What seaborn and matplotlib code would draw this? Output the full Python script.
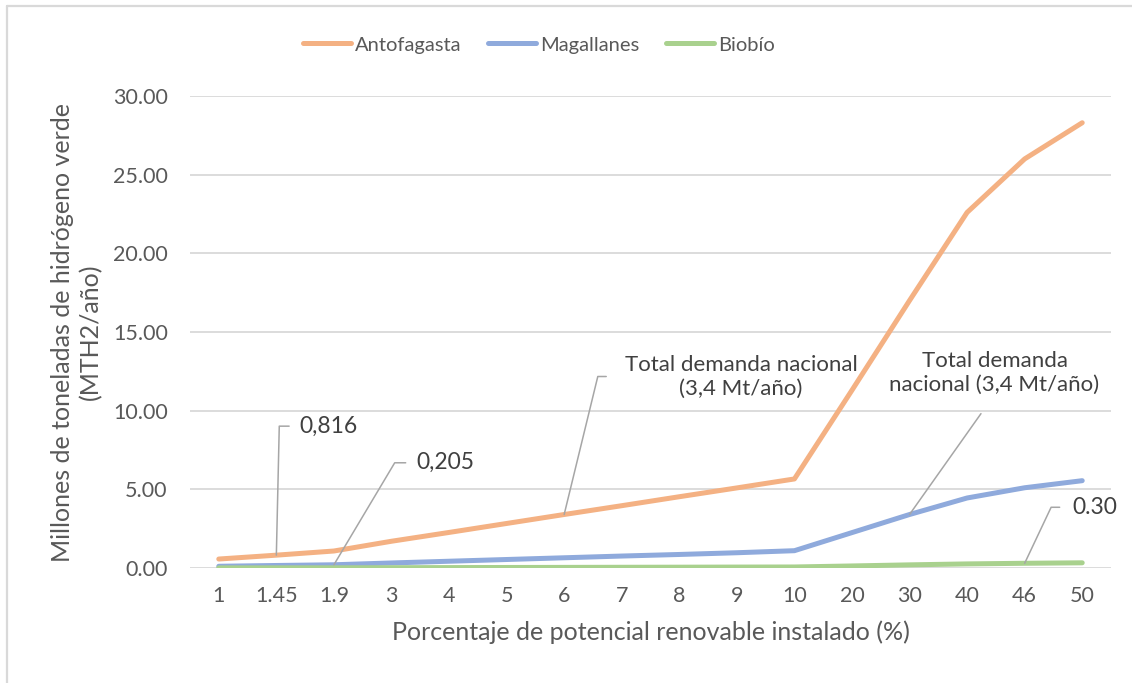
import matplotlib
matplotlib.use("Agg")
import matplotlib.pyplot as plt
from matplotlib.lines import Line2D
import seaborn as sns
import pandas as pd

# Installed renewable potential (%), shown as evenly spaced categories
categories = ["1", "1.45", "1.9", "3", "4", "5", "6", "7", "8", "9",
              "10", "20", "30", "40", "46", "50"]

# Green hydrogen production (million tonnes per year)
antofagasta = [0.57, 0.816, 1.08, 1.70, 2.26, 2.83, 3.40, 3.96, 4.53, 5.09,
               5.66, 11.3, 17.0, 22.6, 26.0, 28.3]
magallanes = [0.11, 0.16, 0.205, 0.32, 0.43, 0.54, 0.65, 0.76, 0.86, 0.97,
              1.10, 2.25, 3.40, 4.45, 5.10, 5.55]
biobio = [0.007, 0.009, 0.012, 0.020, 0.026, 0.033, 0.039, 0.046, 0.052, 0.059,
          0.065, 0.13, 0.20, 0.26, 0.30, 0.33]

regions = ["Antofagasta", "Magallanes", "Biobío"]
colors = {"Antofagasta": "#F4B183", "Magallanes": "#8FAADC", "Biobío": "#A9D18E"}

rows = []
for name, vals in zip(regions, [antofagasta, magallanes, biobio]):
    for i, v in enumerate(vals):
        rows.append({"idx": i, "valor": v, "region": name})
df = pd.DataFrame(rows)

sns.set_theme(style="white")
plt.rcParams["font.family"] = ["Lato", "DejaVu Sans"]

TXT = "#595959"
ANN = "#404040"
LEAD = "#A6A6A6"

fig = plt.figure(figsize=(11.32, 6.83), dpi=100)
fig.patch.set_facecolor("white")
W, H = 1132, 683
ax = fig.add_axes([190 / W, (H - 568) / H, 921 / W, 472 / H])

sns.lineplot(data=df, x="idx", y="valor", hue="region", hue_order=regions,
             palette=colors, linewidth=3.6, legend=False, ax=ax, zorder=3)
for ln in ax.get_lines():
    ln.set_solid_capstyle("round")
    ln.set_solid_joinstyle("round")

ax.set_xlim(-0.5, len(categories) - 0.5)
ax.set_ylim(0, 30)
ax.set_xticks(range(len(categories)))
ax.set_xticklabels(categories)
ax.set_yticks([0, 5, 10, 15, 20, 25, 30])
ax.yaxis.set_major_formatter(matplotlib.ticker.FormatStrFormatter("%.2f"))
ax.tick_params(axis="both", length=0, labelsize=15.5, labelcolor=TXT)
ax.tick_params(axis="x", pad=13)
ax.tick_params(axis="y", pad=16)
ax.grid(axis="y", color="#D9D9D9", linewidth=1.3, zorder=0)
ax.set_axisbelow(True)
for s in ax.spines.values():
    s.set_visible(False)

ax.set_xlabel("Porcentaje de potencial renovable instalado (%)", fontsize=18, color=TXT)
ax.xaxis.set_label_coords(0.5, -0.112)
ax.set_ylabel("Millones de toneladas de hidrógeno verde\n(MTH2/año)", fontsize=18,
              color=TXT, linespacing=1.25)
ax.yaxis.set_label_coords(-0.0955, 0.5)

# Legend across the top
handles = [Line2D([0], [0], color=colors[r], linewidth=3.6, solid_capstyle="round")
           for r in regions]
leg = ax.legend(handles, regions, loc="center", bbox_to_anchor=(539 / W, (H - 45) / H),
                bbox_transform=fig.transFigure, ncol=3, frameon=False, fontsize=14.5,
                handlelength=2.4, handletextpad=0.2, columnspacing=1.3)
for t in leg.get_texts():
    t.set_color(TXT)

lead = dict(arrowstyle="-", color=LEAD, linewidth=1.1, shrinkB=0)

# Callouts
ax.annotate("0,816", xy=(1, antofagasta[1]), xytext=(23, 129), textcoords="offset pixels",
            ha="left", va="center", fontsize=16.5, color=ANN,
            arrowprops=dict(**lead, shrinkA=5, relpos=(0, 0.5),
                            connectionstyle="angle,angleA=0,angleB=88.7,rad=0"))
ax.annotate("0,205", xy=(2, magallanes[2]), xytext=(82, 102), textcoords="offset pixels",
            ha="left", va="center", fontsize=16.5, color=ANN,
            arrowprops=dict(**lead, shrinkA=5, relpos=(0, 0.5),
                            connectionstyle="angle,angleA=0,angleB=59.2,rad=0"))
ax.annotate("Total demanda nacional\n(3,4 Mt/año)", xy=(6, antofagasta[6]), xytext=(177, 138),
            textcoords="offset pixels", ha="center", va="center", multialignment="center",
            fontsize=16, color=ANN, linespacing=1.25,
            arrowprops=dict(**lead, shrinkA=11, relpos=(0, 0.5),
                            connectionstyle="angle,angleA=0,angleB=76.3,rad=0"))
ax.annotate("Total demanda\nnacional (3,4 Mt/año)", xy=(12, magallanes[12]), xytext=(85, 142),
            textcoords="offset pixels", ha="center", va="center", multialignment="center",
            fontsize=16, color=ANN, linespacing=1.25,
            arrowprops=dict(**lead, shrinkA=14, relpos=(0.5, 0)))
ax.annotate("0.30", xy=(14, biobio[14]), xytext=(48, 56), textcoords="offset pixels",
            ha="left", va="center", fontsize=16.5, color=ANN,
            arrowprops=dict(**lead, shrinkA=7, relpos=(0, 0.5),
                            connectionstyle="angle,angleA=0,angleB=64.7,rad=0"))

# Chart frame: left and top edges (the rest runs off the canvas)
fx, fy = 6.5 / W, (H - 5.5) / H
fig.add_artist(Line2D([fx, fx], [-0.05, fy], transform=fig.transFigure,
                      color="#D9D9D9", linewidth=1.6))
fig.add_artist(Line2D([fx, 1.05], [fy, fy], transform=fig.transFigure,
                      color="#D9D9D9", linewidth=1.6))

fig.savefig("out.png", dpi=100, facecolor="white")
